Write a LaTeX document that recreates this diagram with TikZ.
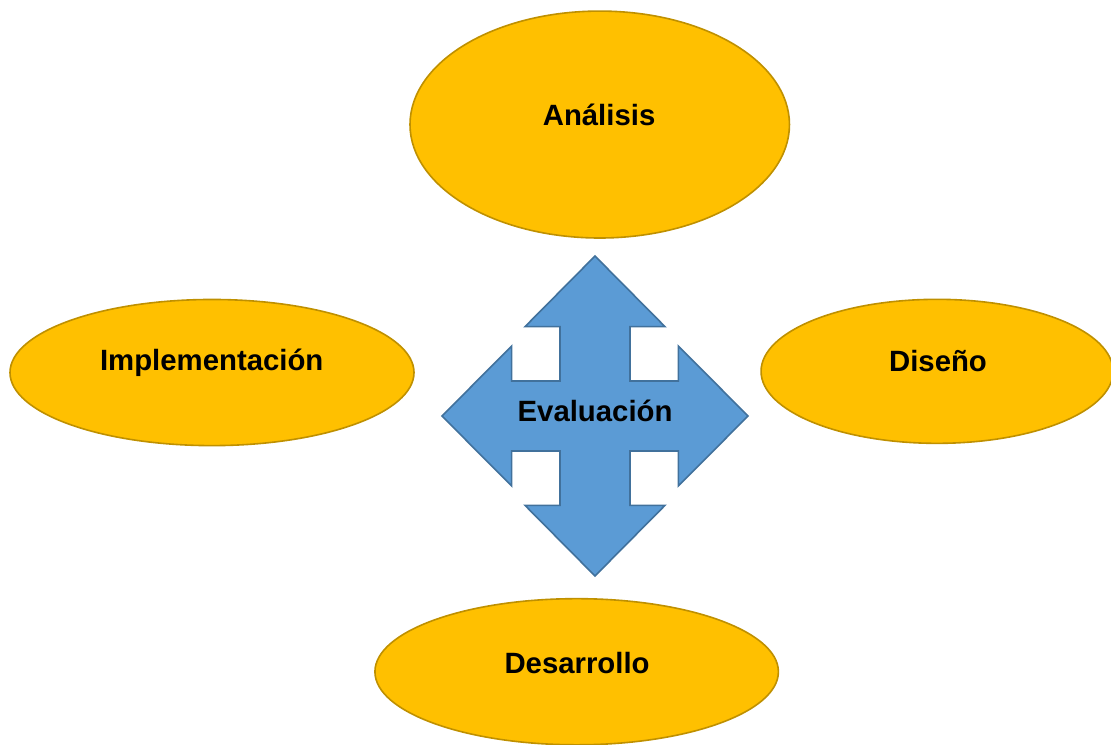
\documentclass[tikz,border=0pt]{standalone}
\usepackage{fontspec}
\setmainfont{Liberation Sans}
\definecolor{phasefill}{RGB}{255,192,0}
\definecolor{phaseline}{RGB}{191,144,0}
\definecolor{evalfill}{RGB}{91,155,213}
\definecolor{evalline}{RGB}{65,113,156}
\begin{document}
\begin{tikzpicture}[yscale=-1
,phase/.style={color=phaseline,fill=phasefill,line width=1.2pt}
,label/.style={color=black,font=\fontsize{22}{26}\selectfont\bfseries}
]
\useasboundingbox (0pt,0pt) rectangle (833.25pt,558pt);
\draw[phase] (449.8pt,93.4pt) ellipse (142.3pt and 85.1pt);
\node (analisis) at (449.3pt,86.3pt)[label]{Análisis};
\draw[phase] (159pt,279.4pt) ellipse (151.5pt and 54.8pt);
\node (implementacion) at (158.8pt,272.3pt)[label]{Implementación};
\draw[phase] (702.8pt,278.5pt) ellipse (132pt and 54pt);
\node (diseno) at (703.5pt,270.8pt)[label]{Diseño};
\draw[phase] (432.5pt,503.8pt) ellipse (151.3pt and 54.8pt);
\node (desarrollo) at (432.8pt,497.3pt)[label]{Desarrollo};
\begin{scope}[shift={(446.25pt,312pt)}]
\draw[color=evalline,fill=evalfill,line width=1.2pt,line join=miter]
 (0pt,-120pt) -- (52.5pt,-67pt) -- (26.25pt,-67pt) -- (26.25pt,-26.25pt)
 -- (62.5pt,-26.25pt) -- (62.5pt,-52.5pt) -- (114.75pt,0pt) -- (62.5pt,52.5pt)
 -- (62.5pt,26.25pt) -- (26.25pt,26.25pt) -- (26.25pt,67pt) -- (52.5pt,67pt)
 -- (0pt,120pt) -- (-52.5pt,67pt) -- (-26.25pt,67pt) -- (-26.25pt,26.25pt)
 -- (-62.5pt,26.25pt) -- (-62.5pt,52.5pt) -- (-114.75pt,0pt) -- (-62.5pt,-52.5pt)
 -- (-62.5pt,-26.25pt) -- (-26.25pt,-26.25pt) -- (-26.25pt,-67pt) -- (-52.5pt,-67pt)
 -- cycle;
\end{scope}
\node (evaluacion) at (446.3pt,308.3pt)[label]{Evaluación};
\end{tikzpicture}
\end{document}
